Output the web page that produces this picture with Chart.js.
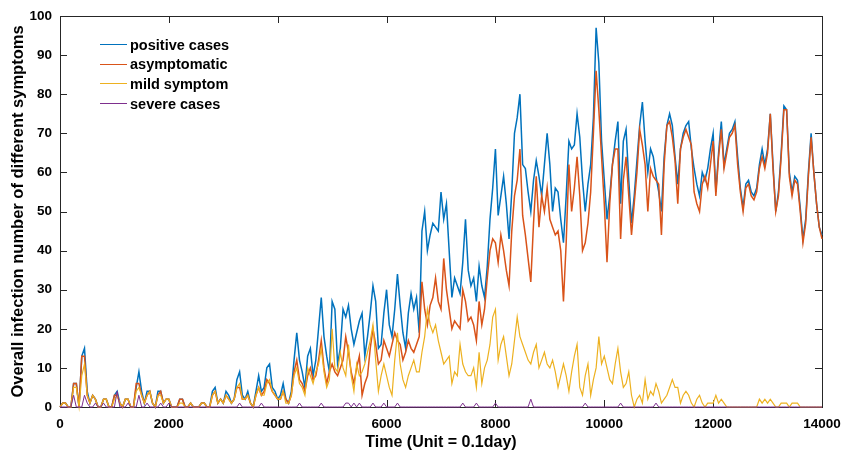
<!DOCTYPE html>
<html>
<head>
<meta charset="utf-8">
<script src="https://cdn.jsdelivr.net/npm/chart.js@4.4.1/dist/chart.umd.min.js"></script>
<style>
  html, body { margin: 0; padding: 0; background: #fff; }
  #wrap { position: relative; width: 842px; height: 453px; }
  #legend { position: absolute; left: 100px; top: 35px; font: bold 14.5px "Liberation Sans", Arial, sans-serif; color: #000; }
  #legend .row { display: flex; align-items: center; height: 19.6px; }
  #legend .swatch { width: 27px; height: 0; border-top: 1.2px solid; margin-right: 3px; }
</style>
</head>
<body>
<div id="wrap">
  <canvas id="chart" width="842" height="453"></canvas>
  <div id="legend"></div>
</div>
<script>
// one sample every 50 time units, 0 .. 14000 (rows of 20 = 1000 units)
const STEP = 50;

const positiveCases = [
  0,1,1,0,0,6,6,0,13,15,4,1,3,2,0,0,2,2,0,0,
  3,4,1,0,2,2,0,0,5,9,4,1,4,4,1,0,4,4,1,2,
  2,0,0,0,2,2,0,0,1,0,0,0,1,1,0,0,4,5,1,2,
  1,4,3,1,2,7,9,3,2,4,1,0,4,8,4,5,10,11,5,4,
  2,3,6,2,1,4,12,19,12,9,5,13,15,8,12,20,28,18,13,9,
  27,25,11,15,25,23,26,20,16,19,22,24,13,18,24,31,27,15,16,24,
  30,21,18,25,34,26,19,15,24,29,25,28,19,45,50,40,44,47,46,45,
  55,48,52,40,28,33,31,29,37,48,35,31,33,27,36,31,28,36,48,56,
  66,49,54,59,52,43,55,70,74,80,62,61,55,50,58,63,59,54,62,70,
  62,50,56,55,48,42,54,68,66,67,75,69,58,50,57,62,74,97,88,68,
  58,48,54,62,68,73,52,68,71,58,47,54,63,72,78,68,60,66,64,59,
  55,50,64,72,75,72,64,57,66,70,72,73,66,61,57,54,60,58,61,66,
  70,55,65,73,62,66,70,71,73,64,56,51,57,58,55,54,56,62,66,62,
  66,75,62,50,55,65,77,76,60,55,59,58,51,43,48,60,70,60,52,46,
  44
];

const asymptomatic = [
  0,1,1,0,0,6,6,0,13,13,3,1,3,2,0,0,2,2,0,0,
  3,3,1,0,2,2,0,0,6,6,3,1,3,4,1,0,3,4,1,2,
  2,0,0,0,2,2,0,0,1,0,0,0,1,1,0,0,3,4,1,2,
  1,3,2,1,2,5,5,2,2,3,1,0,3,5,3,4,7,6,4,3,
  2,2,4,2,1,3,9,12,7,6,4,8,10,7,8,12,17,10,6,9,
  11,9,8,10,12,18,14,9,6,10,13,3,6,8,15,20,16,11,12,17,
  15,13,16,19,17,16,12,14,17,15,14,16,18,32,25,21,26,28,33,27,
  25,38,30,25,20,22,21,20,30,27,22,23,21,17,27,21,25,33,40,43,
  42,37,44,40,35,31,45,54,58,66,49,44,38,32,47,59,46,54,50,56,
  48,46,44,45,40,27,42,62,50,56,64,54,40,42,47,55,70,86,76,64,
  52,37,52,62,66,66,43,58,64,54,44,52,60,71,67,62,50,61,59,58,
  57,44,62,72,73,69,63,52,66,69,71,69,67,55,52,50,57,59,56,62,
  68,54,64,71,61,65,69,70,72,62,55,50,56,57,54,53,55,61,64,61,
  65,75,61,50,54,64,76,76,59,54,58,57,50,42,47,59,69,60,52,46,
  43
];

const mildSymptom = [
  0,1,1,0,0,5,5,0,8,11,3,1,3,2,0,0,2,2,0,0,
  2,3,1,0,2,2,0,0,4,5,3,1,3,4,1,0,3,3,1,2,
  2,0,0,0,1,1,0,0,1,0,0,0,1,1,0,0,3,4,1,2,
  1,3,2,1,2,5,6,2,2,3,1,0,3,5,3,3,6,7,4,3,
  2,2,4,1,1,3,8,10,6,5,3,10,8,6,9,11,15,9,5,7,
  20,10,9,14,10,8,16,8,4,11,8,9,11,14,17,21,12,4,8,11,
  8,5,3,12,19,11,7,5,8,10,12,9,9,14,18,25,21,19,21,17,
  14,11,12,13,6,9,8,16,11,9,8,8,10,5,14,6,10,12,16,23,
  25,12,16,18,13,8,11,17,23,18,16,14,12,11,14,16,10,12,14,11,
  10,12,9,5,8,11,8,4,9,13,16,5,3,8,11,3,7,10,18,11,
  13,10,7,6,11,15,9,5,6,9,3,0,2,3,1,7,2,4,3,6,
  4,1,2,3,5,7,5,5,1,3,4,3,1,0,2,3,1,0,1,1,
  1,3,1,2,1,0,0,0,0,0,0,0,0,0,0,0,0,2,1,2,
  1,2,1,0,0,1,1,1,0,1,1,1,0,0,0,0,0,0,0,0,
  0
];

const severeCases = [
  0,0,0,0,0,3,0,0,0,3,1,0,0,1,0,0,1,0,0,0,
  0,4,0,0,0,1,0,0,0,3,0,0,1,0,0,0,0,1,0,0,
  1,0,0,0,0,0,0,0,0,0,0,0,0,0,0,0,0,0,0,0,
  0,0,0,0,0,0,1,0,0,0,0,0,0,0,1,0,0,0,0,0,
  0,0,0,0,0,0,0,0,1,0,0,0,0,0,0,0,1,0,0,0,
  0,0,0,0,0,1,1,0,1,0,1,0,0,0,0,1,0,0,0,1,
  0,0,0,0,1,0,0,0,0,0,0,0,0,0,0,0,0,0,0,0,
  0,0,0,0,0,0,0,0,1,0,0,0,0,1,0,0,0,0,0,0,
  1,0,0,0,0,0,0,0,0,0,0,0,0,2,0,0,0,0,0,0,
  0,0,0,0,0,0,0,0,0,0,0,0,0,1,0,0,0,0,0,0,
  0,0,0,0,0,0,1,0,0,0,0,0,0,0,0,0,0,0,0,1,
  0,0,0,0,0,0,0,0,0,0,0,0,0,0,0,0,0,0,0,0,
  0,0,0,0,0,0,0,0,0,0,0,0,0,0,0,0,0,0,0,0,
  0,0,0,0,0,0,0,0,0,0,0,0,0,0,0,0,0,0,0,0,
  0
];

const seriesNames = ['positive cases', 'asymptomatic', 'mild symptom', 'severe cases'];
const seriesColors = ['#0072BD', '#D95319', '#EDB120', '#7E2F8E'];
const seriesWidths = [1.5, 1.5, 1.2, 1];
const xTickValues = [0, 2000, 4000, 6000, 8000, 10000, 12000, 14000];

const toPoints = arr => arr.map((v, i) => ({ x: i * STEP, y: v }));

// axes box with inward tick marks, drawn under the lines like MATLAB
const boxPlugin = {
  id: 'matlabBox',
  beforeDatasetsDraw(chart) {
    const { ctx, chartArea: a, scales: { x, y } } = chart;
    const len = 7;
    ctx.save();
    ctx.strokeStyle = '#262626';
    ctx.lineWidth = 1;
    ctx.beginPath();
    x.ticks.forEach(t => {
      const px = Math.round(x.getPixelForValue(t.value)) + 0.5;
      ctx.moveTo(px, a.bottom); ctx.lineTo(px, a.bottom - len);
      ctx.moveTo(px, a.top); ctx.lineTo(px, a.top + len);
    });
    y.ticks.forEach(t => {
      const py = Math.round(y.getPixelForValue(t.value)) + 0.5;
      ctx.moveTo(a.left, py); ctx.lineTo(a.left + len, py);
      ctx.moveTo(a.right, py); ctx.lineTo(a.right - len, py);
    });
    ctx.stroke();
    ctx.strokeRect(Math.round(a.left) + 0.5, Math.round(a.top) + 0.5,
                   Math.round(a.right - a.left), Math.round(a.bottom - a.top));
    ctx.restore();
  }
};

const tickFont = { family: '"Liberation Sans", Arial, sans-serif', size: 13.5, weight: 'bold' };
const titleFont = { family: '"Liberation Sans", Arial, sans-serif', size: 16, weight: 'bold' };

const datasets = [positiveCases, asymptomatic, mildSymptom, severeCases].map((arr, i) => ({
  label: seriesNames[i],
  data: toPoints(arr),
  borderColor: seriesColors[i],
  borderWidth: seriesWidths[i],
  pointRadius: 0,
  tension: 0,
  clip: false,
  order: 3 - i   // later series drawn on top
}));

new Chart(document.getElementById('chart'), {
  type: 'line',
  data: { datasets },
  plugins: [boxPlugin],
  options: {
    responsive: false,
    animation: false,
    devicePixelRatio: 1,
    layout: { padding: { top: 16, right: 20, left: 0, bottom: 0 } },
    plugins: { legend: { display: false }, tooltip: { enabled: false } },
    scales: {
      x: {
        type: 'linear',
        min: 0, max: 14000,
        afterBuildTicks: s => { s.ticks = xTickValues.map(v => ({ value: v })); },
        afterFit: s => { s.height = 46; s.paddingLeft = 0; s.paddingRight = 0; },
        grid: { display: false, drawTicks: false },
        border: { display: false },
        ticks: { font: tickFont, color: '#000', padding: 9, maxRotation: 0, callback: v => String(v) },
        title: { display: true, text: 'Time (Unit = 0.1day)', font: titleFont, color: '#000', padding: { top: 0, bottom: 1 } }
      },
      y: {
        min: 0, max: 100,
        afterFit: s => { s.width = 60; s.paddingTop = 0; s.paddingBottom = 0; },
        grid: { display: false, drawTicks: false },
        border: { display: false },
        ticks: { stepSize: 10, font: tickFont, color: '#000', padding: 8, callback: v => String(v) },
        title: { display: true, text: 'Overall infection number of different symptoms', font: { ...titleFont, size: 16.5 }, color: '#000', padding: { top: 9, bottom: 0 } }
      }
    }
  }
});

// legend inside the plot, top-left, no box
const legend = document.getElementById('legend');
seriesNames.forEach((name, i) => {
  const row = document.createElement('div');
  row.className = 'row';
  const sw = document.createElement('span');
  sw.className = 'swatch';
  sw.style.borderTopColor = seriesColors[i];
  const label = document.createElement('span');
  label.textContent = name;
  row.appendChild(sw);
  row.appendChild(label);
  legend.appendChild(row);
});
</script>
</body>
</html>
